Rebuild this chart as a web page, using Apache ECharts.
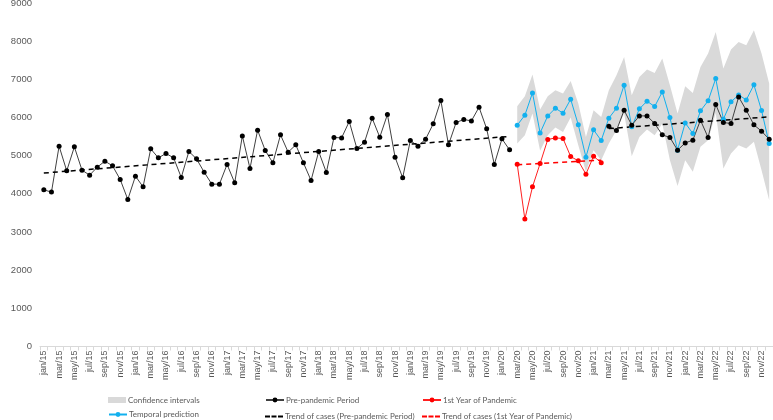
<!DOCTYPE html>
<html>
<head>
<meta charset="utf-8">
<script src="https://cdn.jsdelivr.net/npm/echarts@6/dist/echarts.min.js"></script>
<style>
html,body{margin:0;padding:0;background:#fff;}
#chart{width:773px;height:420px;}
</style>
</head>
<body>
<div id="chart"></div>
<script>
// month labels, jan/15 .. dec/22
var monthNames = ['jan','feb','mar','apr','may','jun','jul','aug','sep','oct','nov','dec'];
var years = ['15','16','17','18','19','20','21','22'];
var months = [];
for (var y = 0; y < years.length; y++) {
    for (var m = 0; m < 12; m++) months.push(monthNames[m] + '/' + years[y]);
}

var yTicks = [0,1000,2000,3000,4000,5000,6000,7000,8000,9000];

// observed cases jan/15 - feb/20
var preCases = [
    4105,4045,5249,4603,5231,4620,4490,4699,4856,4733,4377,3853,
    4463,4183,5178,4943,5057,4943,4430,5110,4916,4568,4254,4254,
    4770,4288,5518,4665,5668,5135,4812,5545,5092,5283,4812,4350,
    5109,4560,5476,5466,5895,5188,5353,5982,5484,6078,4961,4419,
    5398,5249,5432,5833,6445,5283,5869,5948,5911,6270,5702,4770,
    5440,5152
];
// observed cases mar/21 - dec/22 (drawn with the pre-pandemic style)
var laterCases = [
    5772,5659,6190,5798,6042,6042,5842,5545,5476,5144,
    5335,5406,5929,5476,6340,5869,5842,6539,6190,5807,5641,5432
];
// 1st year of pandemic mar/20 - feb/21
var pandemicCases = [4777,3338,4183,4795,5423,5466,5449,4978,4864,4516,4987,4812];

// temporal prediction mar/20 - dec/22
var predicted = [
    5798,6060,6644,5597,6042,6243,6113,6479,5807,4961,5676,5397,
    5982,6243,6846,5755,6226,6427,6287,6671,6000,5144,
    5859,5580,6174,6436,7021,5956,6410,6592,6461,6855,6183,5318
];
var ciUpper = [
    6296,6558,7126,6209,6558,6715,6628,6958,6366,5492,6190,6016,
    6715,7107,7587,6584,7063,7256,7168,7543,6846,6104,
    6820,6645,7326,7675,8241,7281,7780,7980,7893,8285,7675,6890
];
var ciLower = [
    5319,5537,6104,5126,5537,5738,5623,6000,5275,4576,5144,4882,
    5319,5668,6104,4987,5492,5686,5537,5842,4882,4202,
    4882,4576,5231,5406,6121,4663,5057,5275,5188,5362,4620,3835
];

// trend lines: [start month, start value, end month, end value]
var trendPre = ['jan/15', 4545, 'feb/20', 5505];
var trendLater = ['mar/21', 5711, 'dec/22', 6016];
var trendPandemic = ['mar/20', 4760, 'feb/21', 4882];

function place(arr, startLabel) {
    var out = [];
    var start = months.indexOf(startLabel);
    for (var i = 0; i < months.length; i++) {
        var k = i - start;
        out.push(k >= 0 && k < arr.length ? arr[k] : null);
    }
    return out;
}

var ciDiff = ciUpper.map(function (v, i) { return v - ciLower[i]; });

var txt = '#595959';
var font = 'Liberation Sans, Arial, sans-serif';
var legendFont = 'Lato, Liberation Sans, sans-serif';
var dashIcon = 'path://M0,0h5v2h-5z M6.5,0h5v2h-5z M13,0h5v2h-5z';

// one legend per entry so the 3x2 layout sits where the reference has it
function legendAt(left, top, item, h) {
    return {
        left: left, top: top, orient: 'horizontal',
        itemWidth: 18, itemHeight: h || 6, padding: 0,
        textStyle: {color: txt, fontSize: 8, fontFamily: legendFont, padding: [0, 0, 0, -3]},
        data: [item]
    };
}

var chart = echarts.init(document.getElementById('chart'));

var option = {
    animation: false,
    textStyle: {fontFamily: font},
    grid: {left: 40, right: 0, top: 3, bottom: 73.5, outerBoundsMode: 'none', containLabel: false},
    legend: [
        legendAt(108, 396, {name: 'Confidence intervals', icon: 'rect'}),
        legendAt(108, 410.5, 'Temporal prediction'),
        legendAt(265, 396, 'Pre-pandemic Period'),
        legendAt(265, 412.5, {name: 'Trend of cases (Pre-pandemic Period)', icon: dashIcon}, 2),
        legendAt(422, 396, '1st Year of Pandemic'),
        legendAt(422, 412.5, {name: 'Trend of cases (1st Year of Pandemic)', icon: dashIcon}, 2)
    ],
    xAxis: {
        type: 'category',
        data: months,
        boundaryGap: true,
        axisLine: {lineStyle: {color: '#d9d9d9'}},
        axisTick: {show: true, interval: 0, length: 4, lineStyle: {color: '#d9d9d9'}},
        axisLabel: {interval: 1, rotate: 90, color: txt, fontSize: 9, margin: 4, fontFamily: font}
    },
    yAxis: {
        type: 'value',
        min: yTicks[0],
        max: yTicks[yTicks.length - 1],
        interval: 1000,
        name: 'Number of cases',
        nameLocation: 'middle',
        nameGap: 26,
        nameTextStyle: {color: txt, fontSize: 11, fontFamily: font},
        axisLine: {show: false},
        axisTick: {show: false},
        splitLine: {show: false},
        axisLabel: {color: txt, fontSize: 9.5, margin: 8, fontFamily: font, formatter: function (v) { return String(v); }}
    },
    series: [
        {
            name: 'ciLower',
            type: 'line',
            stack: 'ci',
            data: place(ciLower, 'mar/20'),
            symbol: 'none',
            lineStyle: {opacity: 0},
            silent: true
        },
        {
            name: 'Confidence intervals',
            type: 'line',
            stack: 'ci',
            data: place(ciDiff, 'mar/20'),
            symbol: 'none',
            color: '#d9d9d9',
            itemStyle: {color: '#d9d9d9'},
            lineStyle: {opacity: 0},
            areaStyle: {color: '#d9d9d9', opacity: 1},
            silent: true
        },
        {
            name: 'Temporal prediction',
            type: 'line',
            data: place(predicted, 'mar/20'),
            color: '#12b0ee',
            symbol: 'circle',
            symbolSize: 5,
            showAllSymbol: true,
            lineStyle: {width: 1, color: '#12b0ee'},
            itemStyle: {color: '#12b0ee'}
        },
        {
            name: 'Pre-pandemic Period',
            type: 'line',
            data: place(preCases, 'jan/15'),
            color: '#000',
            symbol: 'circle',
            symbolSize: 5,
            showAllSymbol: true,
            lineStyle: {width: 1, color: '#404040'},
            itemStyle: {color: '#000'}
        },
        {
            name: 'Pre-pandemic Period',
            type: 'line',
            data: place(laterCases, 'mar/21'),
            color: '#000',
            symbol: 'circle',
            symbolSize: 5,
            showAllSymbol: true,
            lineStyle: {width: 1, color: '#404040'},
            itemStyle: {color: '#000'}
        },
        {
            name: '1st Year of Pandemic',
            type: 'line',
            data: place(pandemicCases, 'mar/20'),
            color: '#ff0000',
            symbol: 'circle',
            symbolSize: 5,
            showAllSymbol: true,
            lineStyle: {width: 1, color: '#ff2020'},
            itemStyle: {color: '#ff0000'}
        },
        {
            name: 'Trend of cases (Pre-pandemic Period)',
            type: 'line',
            data: [[trendPre[0], trendPre[1]], [trendPre[2], trendPre[3]]],
            color: '#000',
            symbol: 'none',
            itemStyle: {color: '#000'},
            lineStyle: {width: 1.5, color: '#000', type: [5, 4]}
        },
        {
            name: 'Trend of cases (Pre-pandemic Period)',
            type: 'line',
            data: [[trendLater[0], trendLater[1]], [trendLater[2], trendLater[3]]],
            color: '#000',
            symbol: 'none',
            itemStyle: {color: '#000'},
            lineStyle: {width: 1.5, color: '#000', type: [5, 4]}
        },
        {
            name: 'Trend of cases (1st Year of Pandemic)',
            type: 'line',
            data: [[trendPandemic[0], trendPandemic[1]], [trendPandemic[2], trendPandemic[3]]],
            color: '#ff0000',
            symbol: 'none',
            itemStyle: {color: '#ff0000'},
            lineStyle: {width: 1.5, color: '#ff0000', type: [5, 4]}
        }
    ]
};

chart.setOption(option);
</script>
</body>
</html>
